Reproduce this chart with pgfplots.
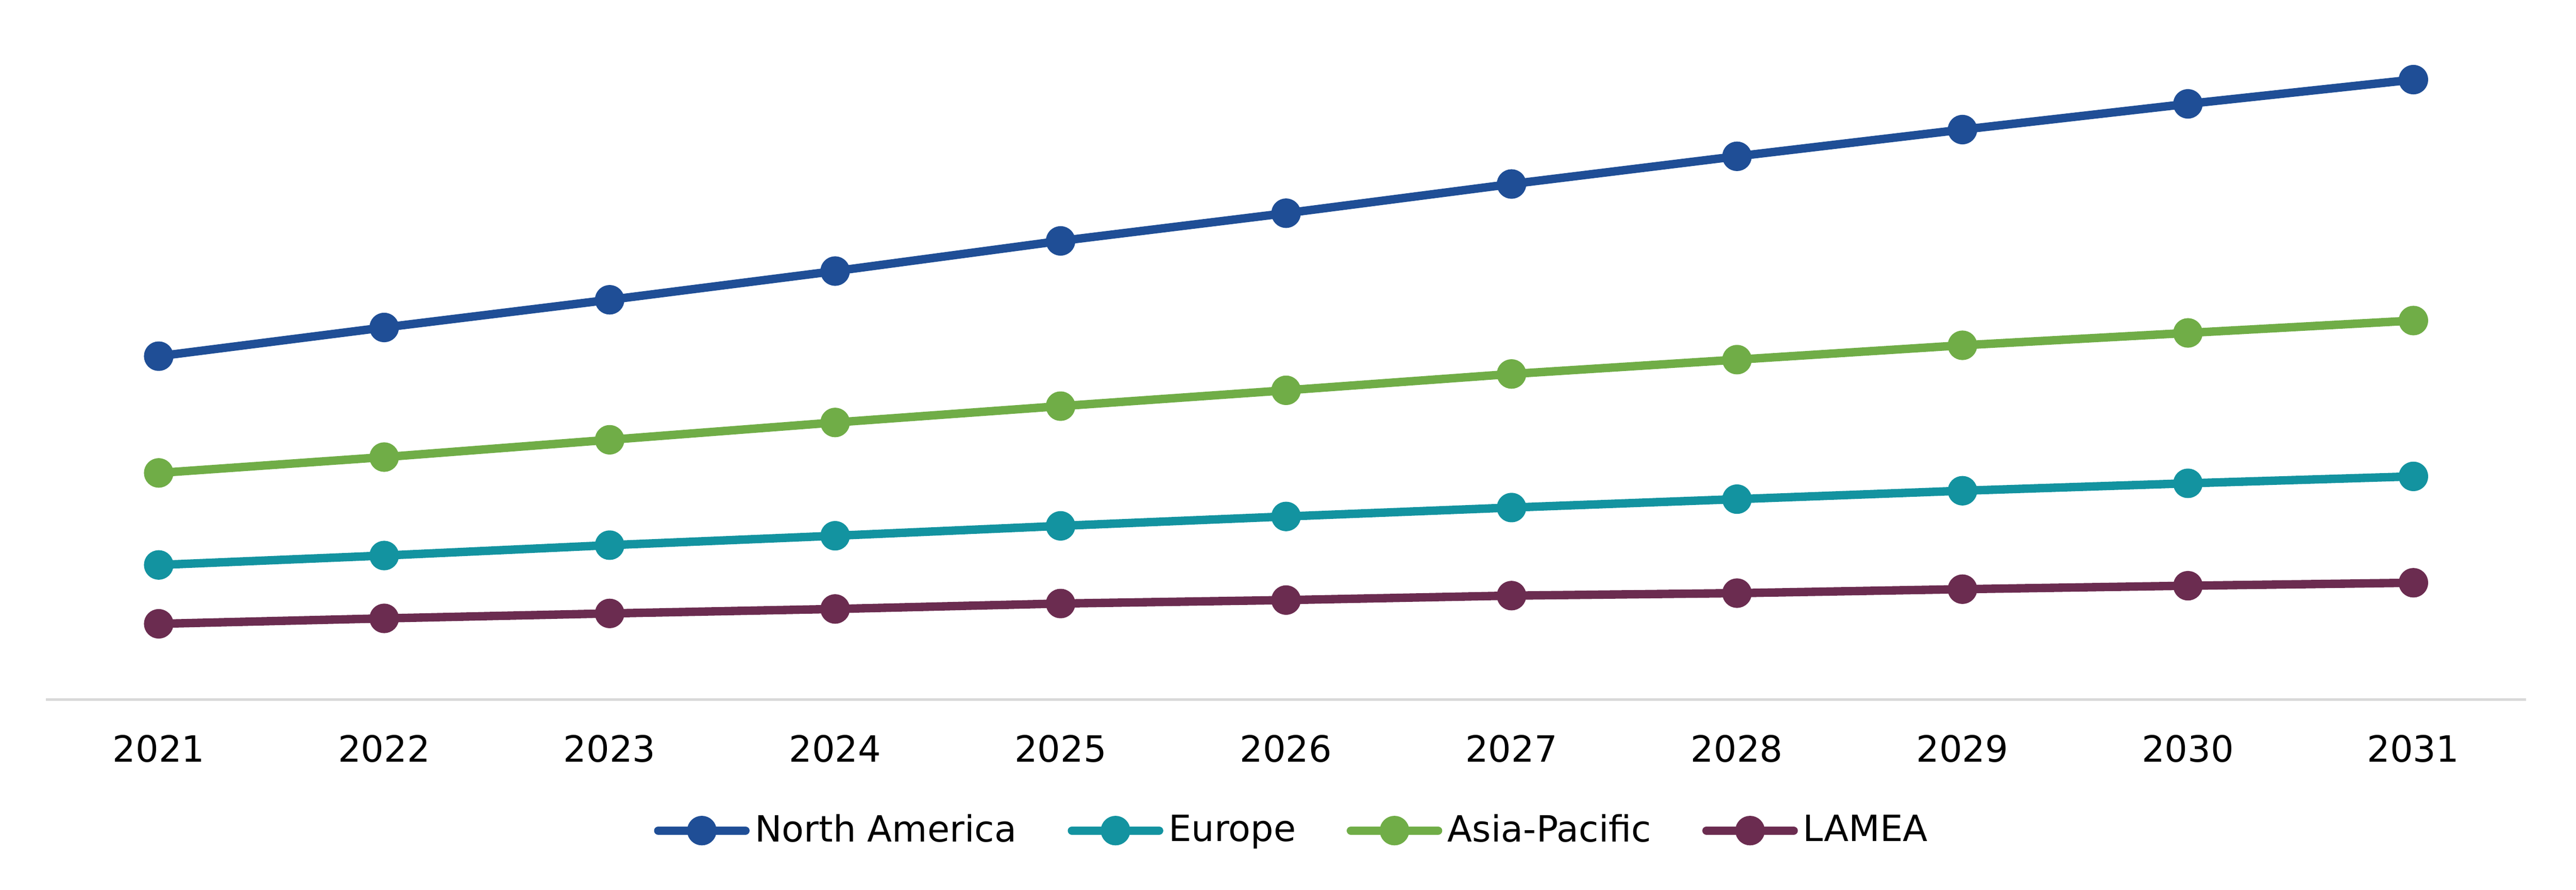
\documentclass[border=0pt]{standalone}
\usepackage{pgfplots}
\pgfplotsset{compat=1.18}
\usepackage{fontspec}
\setmainfont{DejaVu Sans}
\definecolor{cNA}{RGB}{31,78,150}
\definecolor{cEU}{RGB}{19,147,160}
\definecolor{cAP}{RGB}{112,173,71}
\definecolor{cLA}{RGB}{107,44,80}
\begin{document}
\fontsize{10.3}{12}\selectfont
\begin{tikzpicture}
\useasboundingbox (-13.09pt,-54.21pt) rectangle (720.3pt,199.1pt);
\begin{axis}[
  scale only axis,
  width=706.1pt, height=199.1pt,
  xmin=2020.5, xmax=2031.5,
  ymin=0, ymax=1414,
  axis y line=none,
  axis x line*=bottom,
  x axis line style={-, draw=black!15, line width=0.7pt},
  xtick={2021,...,2031},
  major tick length=0pt,
  xticklabel style={/pgf/number format/1000 sep=, /pgf/number format/assume math mode=true, font=\fontsize{10.3}{12}\selectfont, yshift=-6.5pt},
  ytick=\empty,
  clip=false,
  every axis plot/.append style={line width=2.4pt, line cap=round, line join=round, mark=*, mark size=3pt, mark options={solid}},
  legend columns=4,
  legend style={at={(0.503,-0.1874)}, anchor=center, draw=none, fill=none,
    font=\fontsize{10.3}{12}\selectfont,
    /tikz/every odd column/.append style={column sep=0pt},
    /tikz/every even column/.append style={column sep=13pt},
    nodes={inner xsep=1.5pt}},
  legend image code/.code={\draw[#1, mark repeat=2, mark phase=2] plot coordinates {(0pt,0pt) (12.4pt,0pt) (24.8pt,0pt)};},
]
\addplot[color=cNA] coordinates {
  (2021,694) (2022,752) (2023,808) (2024,866) (2025,927) (2026,983)
  (2027,1042) (2028,1098) (2029,1152) (2030,1204) (2031,1253)
};
\addlegendentry{North America}
\addplot[color=cEU] coordinates {
  (2021,272) (2022,291) (2023,312) (2024,331) (2025,351) (2026,370)
  (2027,388) (2028,405) (2029,422) (2030,437) (2031,451)
};
\addlegendentry{Europe}
\addplot[color=cAP] coordinates {
  (2021,458) (2022,490) (2023,525) (2024,560) (2025,593) (2026,625)
  (2027,658) (2028,687) (2029,716) (2030,741) (2031,766)
};
\addlegendentry{Asia-Pacific}
\addplot[color=cLA] coordinates {
  (2021,153) (2022,164) (2023,174) (2024,183) (2025,194) (2026,201)
  (2027,210) (2028,215) (2029,223) (2030,230) (2031,236)
};
\addlegendentry{LAMEA}
\end{axis}
\end{tikzpicture}
\end{document}
